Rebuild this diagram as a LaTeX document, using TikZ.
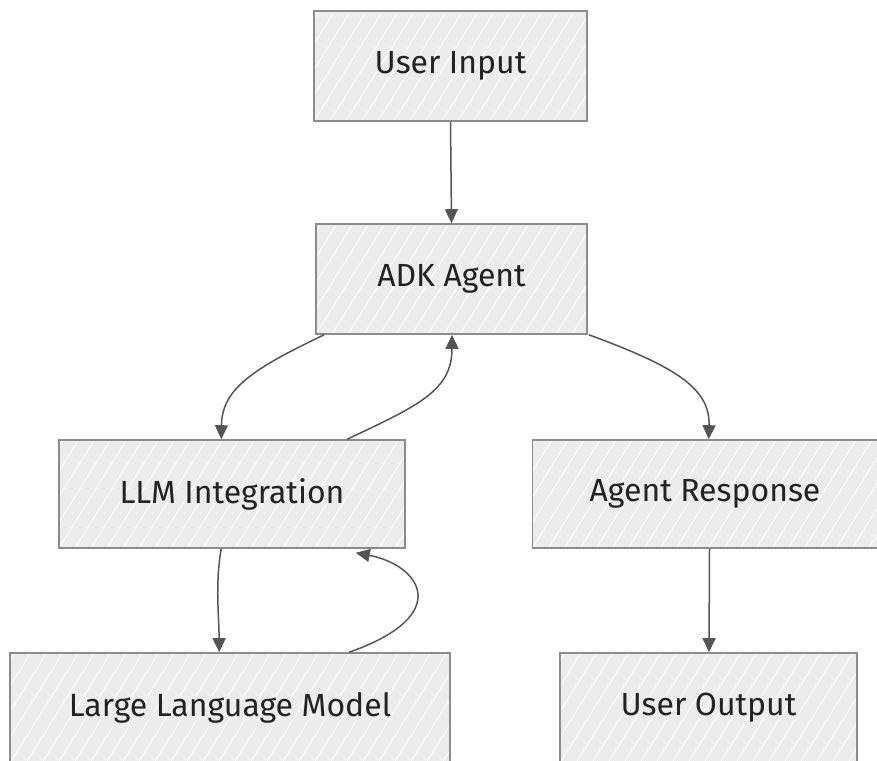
\documentclass[tikz,border=0pt]{standalone}
\usepackage{fontspec}
\setmainfont{Fira Sans}
\usetikzlibrary{arrows.meta,calc}
\definecolor{boxfill}{HTML}{ECECEC}
\definecolor{boxline}{HTML}{8C8C8C}
\definecolor{edge}{HTML}{555555}
\definecolor{txt}{HTML}{222222}
\tikzset{
  hatched/.style={path picture={
    \foreach \i in {-8,...,32}
      \draw[white,line width=0.9pt]
        ([xshift=\i*16pt]path picture bounding box.south west) -- ++(58:300pt);
  }},
  stepbox/.style={draw=boxline, fill=boxfill, line width=1.6pt, hatched,
    text=txt, font=\fontsize{32}{38}\selectfont, inner sep=0pt},
  link/.style={draw=edge, line width=1.5pt, -{Triangle[length=14pt,width=13pt]}},
}
\begin{document}
\begin{tikzpicture}[x=1pt,y=-1pt]
\useasboundingbox (0,0) rectangle (877,760);

\node[stepbox, minimum width=273pt, minimum height=110pt] (ui)   at (450.5,66)  {User Input};
\node[stepbox, minimum width=271pt, minimum height=110pt] (adk)  at (451.5,279) {ADK Agent};
\node[stepbox, minimum width=346pt, minimum height=108pt] (llm)  at (232,494)   {LLM Integration};
\node[stepbox, minimum width=345pt, minimum height=108pt] (resp) at (705,494)   {Agent Response};
\node[stepbox, minimum width=440pt, minimum height=110pt] (lm)   at (230,708)   {Large Language Model};
\node[stepbox, minimum width=297pt, minimum height=110pt] (out)  at (708.5,708) {User Output};

% straight links
\draw[link] (ui.south) -- (adk.north);
\draw[link] ($(resp.south)+(4.5,0)$) -- ($(out.north)+(0.5,0)$);

% curved links around the agent
\draw[link] ($(adk.south west)+(9,0)$) .. controls (250,370) and (222,390) .. ($(llm.north west)+(163,0)$);
\draw[link] ($(llm.north west)+(289,0)$) .. controls (420,405) and (452,390) .. ($(adk.south)+(0.5,0)$);
\draw[link] ($(adk.south east)+(1,0)$) .. controls (680,368) and (710,390) .. ($(resp.north west)+(177,0)$);

% model round trip
\draw[link] ($(llm.south west)+(163,0)$) .. controls (215,585) and (219,615) .. ($(lm.north west)+(210,0)$);
\draw[link] ($(lm.north west)+(340,0)$) .. controls (455,615) and (420,565) .. ($(llm.south east)+(-50,4)$);
\end{tikzpicture}
\end{document}
